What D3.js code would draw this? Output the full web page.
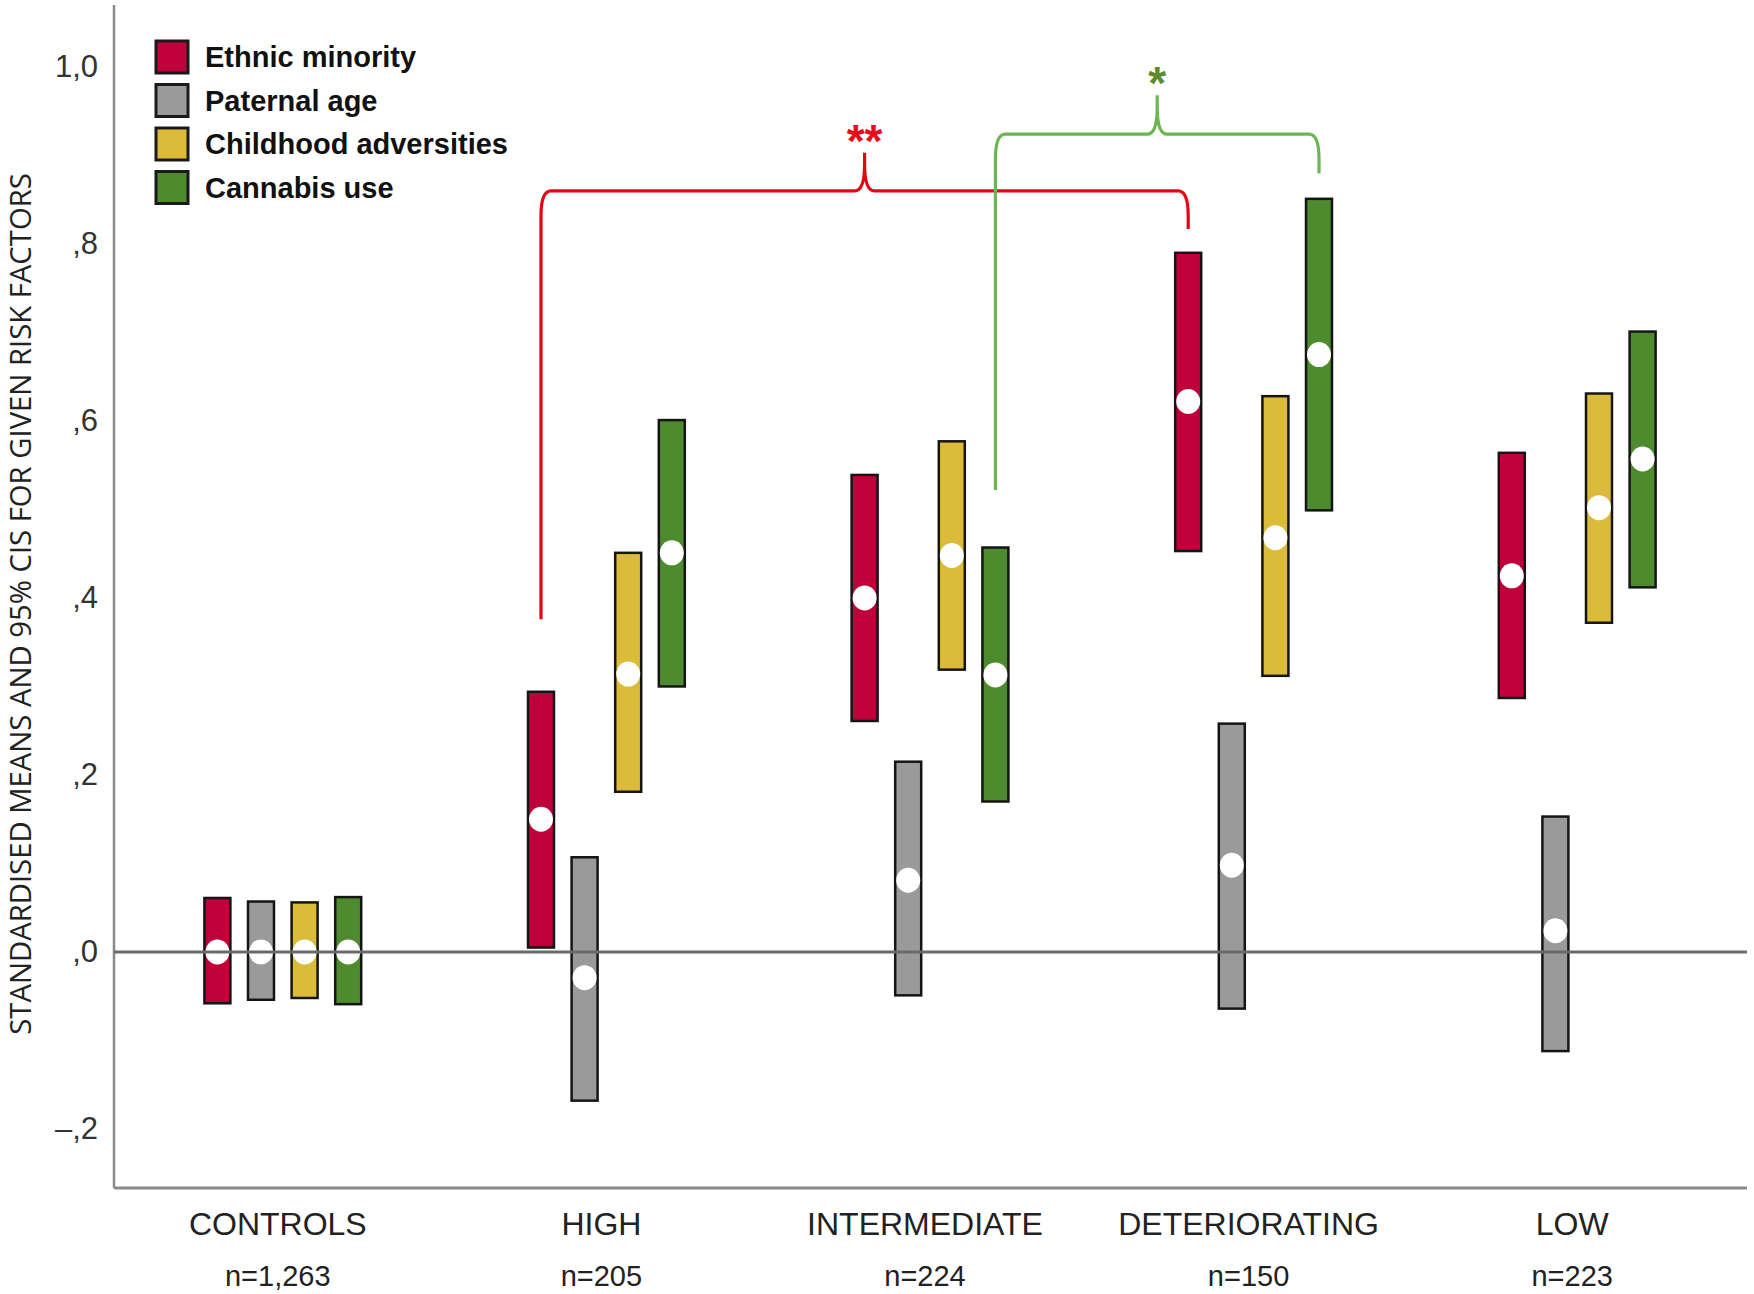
<!DOCTYPE html>
<html><head><meta charset="utf-8">
<script src="https://cdn.jsdelivr.net/npm/d3@7"></script>
<style>body{margin:0;background:#fff}svg{display:block}</style>
</head><body>
<script>
const groups = ["CONTROLS","HIGH","INTERMEDIATE","DETERIORATING","LOW"];
const groupN = ["n=1,263","n=205","n=224","n=150","n=223"];
const series = ["Ethnic minority","Paternal age","Childhood adversities","Cannabis use"];
const seriesColors = ["#c0003a","#9b9a9a","#dcbb3a","#4e8a2e"];
// mean, lower CI, upper CI per group for each series
const ethnicMean  = [0.000, 0.150, 0.400, 0.622, 0.425];
const ethnicLo    = [-0.058, 0.005, 0.261, 0.453, 0.287];
const ethnicHi    = [0.061, 0.294, 0.539, 0.790, 0.564];
const paternalMean= [0.000, -0.029, 0.081, 0.098, 0.024];
const paternalLo  = [-0.054, -0.168, -0.049, -0.064, -0.112];
const paternalHi  = [0.057, 0.107, 0.215, 0.258, 0.153];
const childMean   = [0.000, 0.314, 0.448, 0.468, 0.502];
const childLo     = [-0.052, 0.181, 0.319, 0.312, 0.372];
const childHi     = [0.056, 0.451, 0.577, 0.628, 0.631];
const cannabisMean= [0.000, 0.451, 0.313, 0.675, 0.557];
const cannabisLo  = [-0.059, 0.300, 0.170, 0.499, 0.412];
const cannabisHi  = [0.062, 0.601, 0.457, 0.851, 0.701];
const tickValues = [-0.2, 0, 0.2, 0.4, 0.6, 0.8, 1.0];
const tickLabels = ["\u2013,2", ",0", ",2", ",4", ",6", ",8", "1,0"];
const yTitle = "STANDARDISED MEANS AND 95% CIS FOR GIVEN RISK FACTORS";
const brackets = [
  {a:"HIGH", b:"DETERIORATING", s:0, lo1:0.376, lo2:0.817, level:0.860, peak:0.903, label:"**", color:"#e30613", labelColor:"#e3101c"},
  {a:"INTERMEDIATE", b:"DETERIORATING", s:3, lo1:0.522, lo2:0.880, level:0.924, peak:0.968, label:"*", color:"#6ab650", labelColor:"#5b8c2b"}
];

const means = [ethnicMean, paternalMean, childMean, cannabisMean];
const los = [ethnicLo, paternalLo, childLo, cannabisLo];
const his = [ethnicHi, paternalHi, childHi, cannabisHi];

const W = 1754, H = 1294;
const svg = d3.select("body").append("svg").attr("width", W).attr("height", H);
const pLeft = 114, pRight = 1747, pTop = 5, pBottom = 1188;

const x = d3.scaleBand().domain(groups).range([121, 1739]);
const xs = d3.scaleBand().domain(series).range([-78.4, 78.4]).paddingInner(0.404).paddingOuter(0);
const y = d3.scaleLinear().domain([-0.2667, 1.07]).range([pBottom, pTop]);

const data = [];
groups.forEach((g, gi) => series.forEach((s, si) => data.push({
  g, s, si, mean: means[si][gi], lo: los[si][gi], hi: his[si][gi]
})));
const cx = d => x(d.g) + x.bandwidth()/2 + xs(d.s) + xs.bandwidth()/2;

svg.append("line").attr("x1", pLeft).attr("x2", pLeft).attr("y1", pTop).attr("y2", pBottom)
  .attr("stroke", "#8a8a8a").attr("stroke-width", 2.5);
svg.append("line").attr("x1", pLeft).attr("x2", pRight).attr("y1", pBottom).attr("y2", pBottom)
  .attr("stroke", "#8a8a8a").attr("stroke-width", 3);

const yAxis = d3.axisLeft(y).tickValues(tickValues).tickSize(0).tickPadding(16)
  .tickFormat((d, i) => tickLabels[i]);
const ya = svg.append("g").attr("transform", `translate(${pLeft},0)`).call(yAxis);
ya.select(".domain").remove();
ya.selectAll("text").attr("font-family", "'Liberation Sans', Arial, sans-serif")
  .attr("font-size", 31).attr("fill", "#333");

const xAxis = d3.axisBottom(x).tickSize(0).tickPadding(24);
const xa = svg.append("g").attr("transform", `translate(0,${pBottom})`).call(xAxis);
xa.select(".domain").remove();
xa.selectAll("text").attr("font-family", "'Liberation Sans', Arial, sans-serif")
  .attr("font-size", 32).attr("fill", "#222").attr("dy", "0.71em").attr("dx", -5);
svg.append("g").selectAll("text").data(groups).join("text")
  .attr("x", d => x(d) + x.bandwidth()/2 - 5).attr("y", 1286)
  .attr("text-anchor", "middle").attr("font-family", "'Liberation Sans', Arial, sans-serif")
  .attr("font-size", 29).attr("fill", "#222").text((d, i) => groupN[i]);

const yt = svg.append("text").attr("transform", "translate(20,604) rotate(-90)")
  .attr("text-anchor", "middle").attr("dy", "0.36em")
  .attr("font-family", "'Open Sans', 'Liberation Sans', sans-serif")
  .attr("font-size", 26).attr("fill", "#222").text(yTitle);
const tl = yt.node().getComputedTextLength();
yt.attr("font-size", 26 * 862 / tl);

svg.append("g").selectAll("rect").data(data).join("rect")
  .attr("x", d => cx(d) - xs.bandwidth()/2).attr("width", xs.bandwidth())
  .attr("y", d => y(d.hi)).attr("height", d => y(d.lo) - y(d.hi))
  .attr("fill", d => seriesColors[d.si]).attr("stroke", "#151515").attr("stroke-width", 2.5);

svg.append("g").selectAll("ellipse").data(data).join("ellipse")
  .attr("cx", cx).attr("cy", d => y(d.mean)).attr("rx", 12).attr("ry", 12.5).attr("fill", "#fff");

svg.append("line").attr("x1", pLeft).attr("x2", pRight).attr("y1", y(0)).attr("y2", y(0))
  .attr("stroke", "#6a6a6a").attr("stroke-width", 3);

brackets.forEach(b => {
  const x1 = x(b.a) + x.bandwidth()/2 + xs(series[b.s]) + xs.bandwidth()/2;
  const x2 = x(b.b) + x.bandwidth()/2 + xs(series[b.s]) + xs.bandwidth()/2;
  const xm = (x1 + x2)/2, yh = y(b.level), yp = y(b.peak), r = 10;
  const p = d3.path();
  p.moveTo(x1, y(b.lo1));
  p.lineTo(x1, yh + r*2.5);
  p.quadraticCurveTo(x1, yh, x1 + r, yh);
  p.lineTo(xm - r, yh);
  p.quadraticCurveTo(xm, yh, xm, yp + (yh - yp)*0.3);
  p.lineTo(xm, yp);
  p.moveTo(xm, yp + (yh - yp)*0.3);
  p.quadraticCurveTo(xm, yh, xm + r, yh);
  p.lineTo(x2 - r, yh);
  p.quadraticCurveTo(x2, yh, x2, yh + r*2.5);
  p.lineTo(x2, y(b.lo2));
  svg.append("path").attr("d", p.toString()).attr("fill", "none")
    .attr("stroke", b.color).attr("stroke-width", 3.2);
  svg.append("text").attr("x", xm).attr("y", yp + 4).attr("text-anchor", "middle")
    .attr("font-family", "'Liberation Sans', Arial, sans-serif").attr("font-weight", "bold")
    .attr("font-size", 46).attr("fill", b.labelColor).text(b.label);
});

const lg = svg.append("g").attr("transform", "translate(156,41)");
const li = lg.selectAll("g").data(series).join("g").attr("transform", (d, i) => `translate(0,${i*43.5})`);
li.append("rect").attr("width", 32).attr("height", 32).attr("fill", (d, i) => seriesColors[i])
  .attr("stroke", "#1a1a1a").attr("stroke-width", 3);
li.append("text").attr("x", 49).attr("y", 16).attr("dy", "0.36em")
  .attr("font-family", "'Liberation Sans', Arial, sans-serif").attr("font-weight", "bold")
  .attr("font-size", 29).attr("fill", "#111").text(d => d);
</script>
</body></html>
